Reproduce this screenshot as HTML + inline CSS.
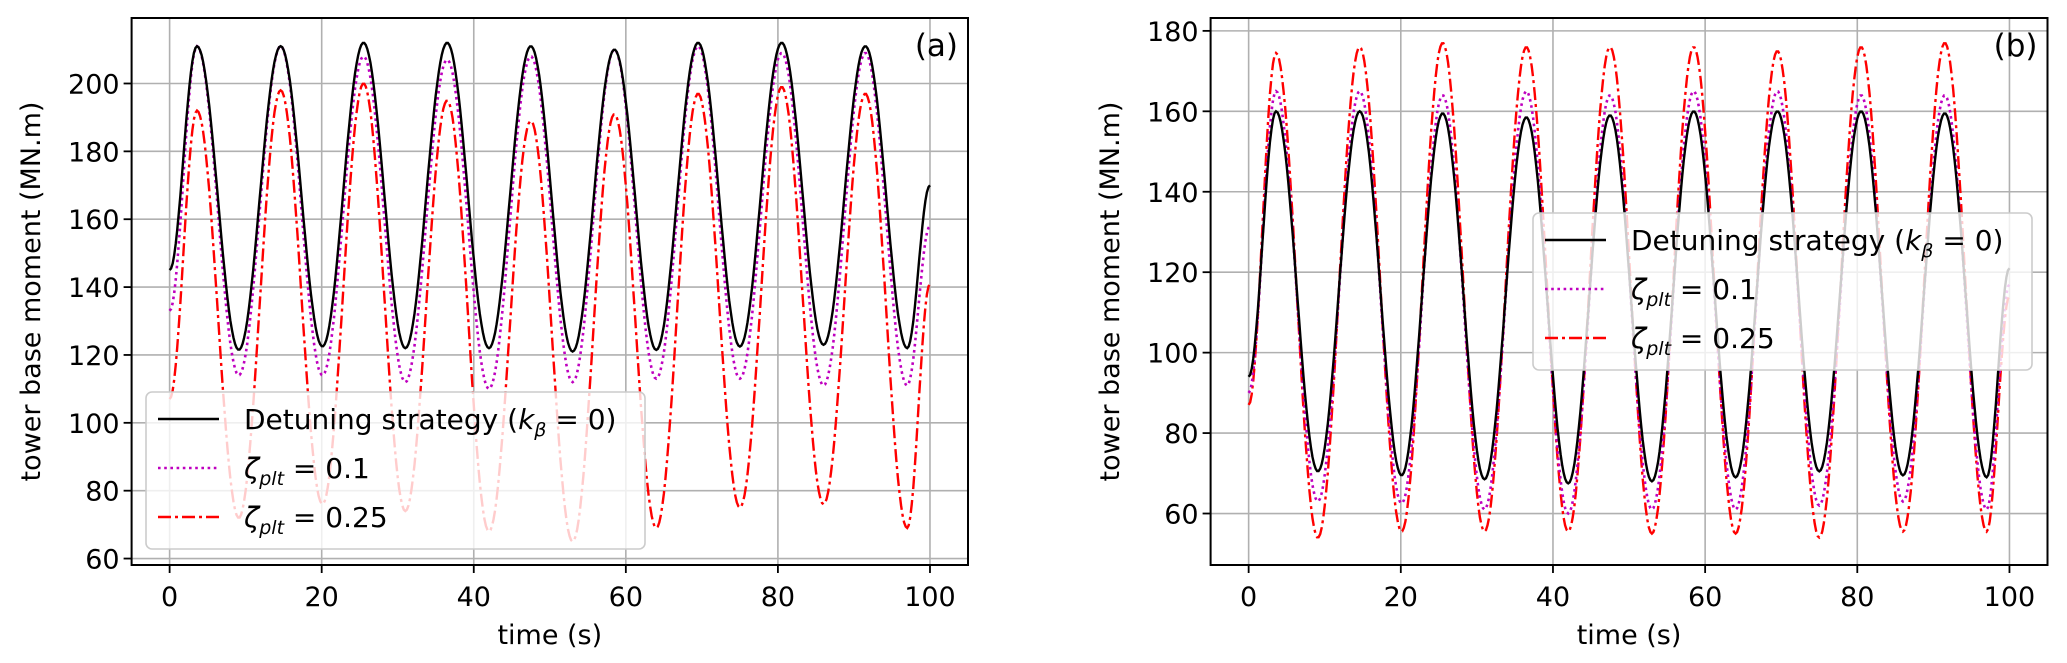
<!DOCTYPE html>
<html><head><meta charset="utf-8">
<style>
html,body{margin:0;padding:0;background:#fff;}
svg{display:block;font-family:"DejaVu Sans","Liberation Sans",sans-serif;}
</style></head>
<body>
<svg id="fig" width="2067" height="663" viewBox="0 0 2067 663" xmlns="http://www.w3.org/2000/svg"></svg>
<script>
// ---- data ----
const xTicks = [0, 20, 40, 60, 80, 100];
const yTicksA = [60, 80, 100, 120, 140, 160, 180, 200];
const yTicksB = [60, 80, 100, 120, 140, 160, 180];
// key times: start, alternating peaks / troughs, end
const keyTimes = [0, 3.6, 9.1, 14.6, 20.1, 25.5, 31.0, 36.5, 42.0, 47.5, 53.0, 58.5, 64.0, 69.5, 75.0, 80.5, 86.0, 91.5, 97.0, 100];
const aBlack = [145, 211, 121.5, 211, 122.5, 212, 122, 212, 122, 211, 121, 210, 121.5, 212, 122.5, 212, 123, 211, 122, 170];
const aMagenta = [133, 211, 114, 211, 114, 208, 112, 207, 110, 208, 112, 210, 113, 211, 113, 209, 111, 209, 111, 158];
const aRed = [107, 192, 72, 198, 76, 200, 74, 195, 68, 189, 65, 191, 69, 197, 75, 199, 76, 197, 69, 141];
const bBlack = [94, 160, 70.5, 160, 69.5, 159.5, 68.5, 158.5, 67.5, 159, 68, 160, 69, 160, 70.5, 160, 69.5, 159.5, 69, 121];
const bMagenta = [90, 165, 63, 165, 62.5, 164, 61, 165, 60, 164, 61, 165, 61, 165, 62, 164, 63, 164, 61, 117];
const bRed = [87, 174.5, 54, 176, 55.5, 177, 55.5, 176, 55.5, 176, 55, 176, 55, 175, 54, 176, 55.5, 177, 55.5, 114];

const NS = "http://www.w3.org/2000/svg";
const svg = document.getElementById('fig');
function mk(tag, attrs, parent){
  const e = document.createElementNS(NS, tag);
  for (const k in attrs) e.setAttribute(k, attrs[k]);
  (parent||svg).appendChild(e);
  return e;
}
function curveVal(vals, t){
  for (let i=0;i<keyTimes.length-1;i++){
    const t0=keyTimes[i], t1=keyTimes[i+1];
    if (t>=t0 && t<=t1){
      const f=(t-t0)/(t1-t0);
      const w=(1-Math.cos(Math.PI*f))/2;
      return vals[i]+(vals[i+1]-vals[i])*w;
    }
  }
  return vals[vals.length-1];
}

function panel(cfg){
  const g = mk('g', {});
  
  
  const L=cfg.left, R=cfg.right, T=18, B=565;
  const xs = v => L + (v - (-5)) / 110 * (R - L);
  const ys = v => B - (v - cfg.ymin) / (cfg.ymax - cfg.ymin) * (B - T);
  xTicks.forEach(v=>{
    const l = mk('line',{x1:xs(v),x2:xs(v),y1:T,y2:B,stroke:'#b0b0b0','stroke-width':1.6},g);
    
    
  });
  cfg.yTicks.forEach(v=>{
    const l = mk('line',{x1:L,x2:R,y1:ys(v),y2:ys(v),stroke:'#b0b0b0','stroke-width':1.6},g);
    
    
  });
  const series = [
    {vals:cfg.red, color:'#ff0000', w:2.4, dash:'13 4 3 4', name:'series-zeta-0.25'},
    {vals:cfg.magenta, color:'#bf00bf', w:2.6, dash:'2.6 3.6', name:'series-zeta-0.1'},
    {vals:cfg.black, color:'#000000', w:2.4, dash:'none', name:'series-detuning'}
  ];
  series.forEach(s=>{
    let d='';
    for (let t=0;t<=100.001;t+=0.2){
      d += (t===0?'M':'L') + xs(t).toFixed(1) + ',' + ys(curveVal(s.vals,t)).toFixed(1);
    }
    const p = mk('path',{d:d,fill:'none',stroke:s.color,'stroke-width':s.w,'stroke-dasharray':s.dash},g);
    
    
  });
  const fr = mk('rect',{x:L,y:T,width:R-L,height:B-T,fill:'none',stroke:'#000','stroke-width':2},g);
  
  
  xTicks.forEach(v=>{
    mk('line',{x1:xs(v),x2:xs(v),y1:B,y2:B+8,stroke:'#000','stroke-width':1.8},g);
    const t = mk('text',{x:xs(v),y:606,'font-size':27,'text-anchor':'middle',fill:'#000'},g);
    t.textContent = v;
    
    
  });
  cfg.yTicks.forEach(v=>{
    mk('line',{x1:L-8,x2:L,y1:ys(v),y2:ys(v),stroke:'#000','stroke-width':1.8},g);
    const t = mk('text',{x:L-12,y:ys(v)+10,'font-size':27,'text-anchor':'end',fill:'#000'},g);
    t.textContent = v;
    
    
  });
  const xl = mk('text',{x:(L+R)/2,y:644,'font-size':27,'text-anchor':'middle',fill:'#000'},g);
  xl.textContent='time (s)';
  
  
  const yl = mk('text',{x:0,y:0,'font-size':27,'text-anchor':'middle',fill:'#000',transform:`translate(${cfg.ylabelX},${(T+B)/2}) rotate(-90)`},g);
  yl.textContent='tower base moment (MN.m)';
  
  
  const pl = mk('text',{x:R-10,y:56,'font-size':31,'text-anchor':'end',fill:'#000'},g);
  pl.textContent=cfg.tag;
  
  
  const lg = mk('g',{},g);
  
  
  const lx=cfg.legX, ly=cfg.legY;
  mk('rect',{x:lx,y:ly,width:499,height:157,rx:6,fill:'rgba(255,255,255,0.8)',stroke:'#cccccc','stroke-width':1.6},lg);
  const rows=[
    {color:'#000',w:2.4,dash:'none',label:'Detuning strategy (<tspan font-style="italic">k</tspan><tspan font-style="italic" font-size="19" dy="7">β</tspan><tspan dy="-7"> = 0)</tspan>',name:'legend-entry-detuning'},
    {color:'#bf00bf',w:2.6,dash:'2.6 3.6',label:'<tspan font-style="italic">ζ</tspan><tspan font-style="italic" font-size="19" dy="7">plt</tspan><tspan dy="-7"> = 0.1</tspan>',name:'legend-entry-zeta-0.1'},
    {color:'#ff0000',w:2.4,dash:'13 4 3 4',label:'<tspan font-style="italic">ζ</tspan><tspan font-style="italic" font-size="19" dy="7">plt</tspan><tspan dy="-7"> = 0.25</tspan>',name:'legend-entry-zeta-0.25'}
  ];
  rows.forEach((r,i)=>{
    const cy = ly+27+i*49;
    const e = mk('g',{},lg);
    
    
    mk('line',{x1:lx+12,x2:lx+73,y1:cy,y2:cy,stroke:r.color,'stroke-width':r.w,'stroke-dasharray':r.dash},e);
    const t = mk('text',{x:lx+98,y:cy+10,'font-size':28,fill:'#000'},e);
    t.innerHTML = r.label;
  });
}

panel({name:'panel-a', left:131.6, right:968, ymin:58.1, ymax:219.3, yTicks:yTicksA,
  black:aBlack, magenta:aMagenta, red:aRed, ylabelX:40, tag:'(a)', legX:146, legY:392});
panel({name:'panel-b', left:1210.6, right:2047.5, ymin:47.2, ymax:183.2, yTicks:yTicksB,
  black:bBlack, magenta:bMagenta, red:bRed, ylabelX:1119, tag:'(b)', legX:1533, legY:213});
</script>
</body></html>
